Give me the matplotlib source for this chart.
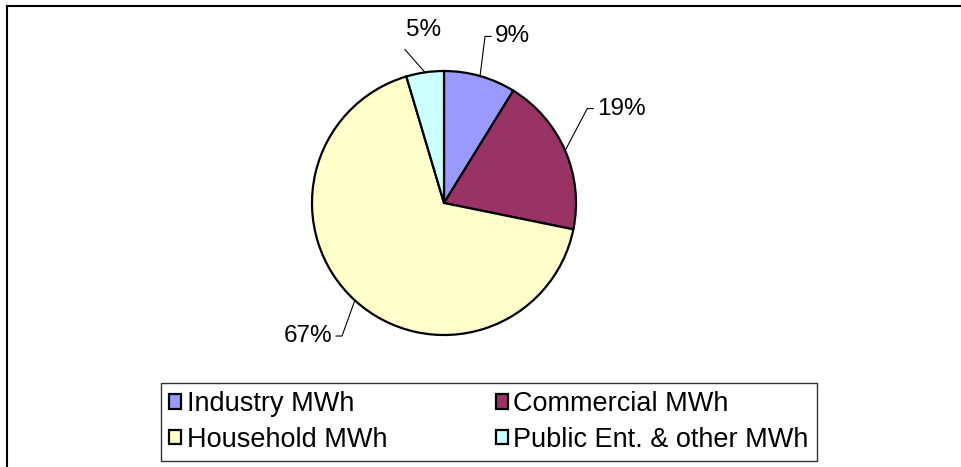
import numpy as np
import matplotlib.pyplot as plt
from matplotlib.lines import Line2D

# ================= data =================
categories = ["Industry MWh", "Commercial MWh", "Household MWh", "Public Ent. & other MWh"]
shares = [8.8, 19.4, 67.2, 4.6]          # percent of total consumption
colors = ["#9999FF", "#993366", "#FFFFCC", "#CCFFFF"]
# label placement tweaks (degrees rotated from slice middle, radius factor)
label_nudge = [-2, -10, -5, -6]
label_rad = [1.3, 1.3, 1.27, 1.2]
# ========================================

plt.rcParams['font.family'] = ['Liberation Sans', 'DejaVu Sans']

W, H = 961, 467
fig = plt.figure(figsize=(W / 100, H / 100), dpi=100)
ax = fig.add_axes([0, 0, 1, 1])

cx, cy, r = 444, H - 203, 132
wedges, _ = ax.pie(shares, colors=colors, startangle=90, counterclock=False,
                   center=(cx, cy), radius=r,
                   wedgeprops=dict(edgecolor='black', linewidth=1.6))
ax.set_xlim(0, W)
ax.set_ylim(0, H)
ax.set_aspect('equal')
ax.axis('off')

# percentage labels with leader lines
total = sum(shares)
cum = 0.0
for v, nudge, rf in zip(shares, label_nudge, label_rad):
    mid_cw = 360 * (cum + v / 2) / total
    cum += v
    a_mid = np.deg2rad(90 - mid_cw)
    a_lab = np.deg2rad(90 - (mid_cw + nudge))
    edge = (cx + r * np.cos(a_mid), cy + r * np.sin(a_mid))
    elbow = (cx + rf * r * np.cos(a_lab), cy + rf * r * np.sin(a_lab))
    txt = f"{round(v / total * 100):.0f}%"
    if np.cos(a_lab) < 0 and np.sin(a_lab) > 0.9:
        # upper left near the top: label sits above the end of the leader
        ax.plot([edge[0], elbow[0]], [edge[1], elbow[1]], color='black', lw=0.8)
        ax.text(elbow[0] + 19, elbow[1] + 19, txt, ha='center', va='center', fontsize=17.5)
    else:
        side = 1 if np.cos(a_lab) > 0 else -1
        tick = (elbow[0] + 6 * side, elbow[1])
        ax.plot([edge[0], elbow[0], tick[0]], [edge[1], elbow[1], tick[1]],
                color='black', lw=0.8)
        ax.text(tick[0] + 4 * side, tick[1], txt, ha='left' if side > 0 else 'right',
                va='center', fontsize=17.5)

# legend filled row by row like the original
order = [0, 2, 1, 3]
leg = ax.legend([wedges[i] for i in order], [categories[i] for i in order],
                ncol=2, loc='upper left',
                bbox_to_anchor=(161 / W, 1 - 383 / H),
                frameon=True, fancybox=False, fontsize=19.5,
                handlelength=0.45, handleheight=0.45, handletextpad=0.2,
                columnspacing=4.0, borderaxespad=0, borderpad=0.3,
                labelspacing=0.35)
leg.get_frame().set_edgecolor('black')
leg.get_frame().set_linewidth(1.0)
for h in leg.legend_handles:
    h.set_linewidth(1.6)

# chart area border (only top and left are inside the crop)
fig.add_artist(Line2D([6.5 / W, 1], [1 - 5.5 / H, 1 - 5.5 / H], color='black', lw=1.5))
fig.add_artist(Line2D([6.5 / W, 6.5 / W], [0, 1 - 5.5 / H], color='black', lw=1.5))

fig.savefig("out.png", dpi=100)
